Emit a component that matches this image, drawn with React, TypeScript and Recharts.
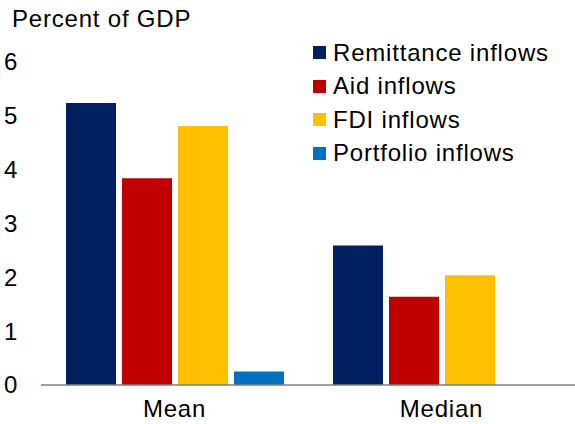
import { BarChart, Bar, XAxis, YAxis } from 'recharts';

const categories = ['Mean', 'Median'];
const remittance = [5.24, 2.59];
const aid = [3.84, 1.64];
const fdi = [4.81, 2.04];
const portfolio = [0.25, 0];
const yTicks = [0, 1, 2, 3, 4, 5, 6];

const seriesInfo = [
  { key: 'remittance', name: 'Remittance inflows', color: '#002060' },
  { key: 'aid', name: 'Aid inflows', color: '#C00000' },
  { key: 'fdi', name: 'FDI inflows', color: '#FFC000' },
  { key: 'portfolio', name: 'Portfolio inflows', color: '#0070C0' },
];

const chartData = categories.map((category, i) => ({
  category,
  remittance: remittance[i],
  aid: aid[i],
  fdi: fdi[i],
  portfolio: portfolio[i],
}));

const FONT = '"Liberation Sans", Arial, sans-serif';

const YTick = (props: any) => {
  const { y, payload } = props;
  return (
    <text x={4} y={y} dy="0.35em" textAnchor="start" fill="#000" fontSize={24} fontFamily={FONT} letterSpacing={0.8}>
      {payload.value}
    </text>
  );
};

// legend drawn as plain html so it doesn't eat into the plot area
const LegendBox = () => (
  <div
    style={{
      position: 'absolute',
      left: 313,
      top: 36,
      fontFamily: FONT,
      fontSize: 24,
      letterSpacing: 0.8,
      color: '#000',
      zIndex: 2,
    }}
  >
    {seriesInfo.map((s) => (
      <div key={s.key} style={{ display: 'flex', alignItems: 'center', height: 33.5 }}>
        <span style={{ width: 13, height: 13, background: s.color, marginRight: 7, display: 'inline-block' }} />
        <span>{s.name}</span>
      </div>
    ))}
  </div>
);

export default function App() {
  return (
    <div style={{ position: 'absolute', left: 0, top: 0, width: 575, height: 424, background: '#fff' }}>
      <div
        style={{
          position: 'absolute',
          left: 12,
          top: 5,
          fontFamily: FONT,
          fontSize: 24,
          letterSpacing: 0.8,
          color: '#000',
          zIndex: 2,
        }}
      >
        Percent of GDP
      </div>
      <LegendBox />
      <BarChart
        width={575}
        height={424}
        data={chartData}
        margin={{ top: 62, right: 0, left: 0, bottom: 0 }}
        barCategoryGap={25}
        barGap={6}
      >
        <XAxis
          dataKey="category"
          height={39}
          tickLine={false}
          tickSize={0}
          tickMargin={15}
          axisLine={{ stroke: '#7f7f7f', strokeWidth: 1.5 }}
          tick={{ fill: '#000', fontSize: 24, fontFamily: FONT, letterSpacing: 0.8 }}
        />
        <YAxis
          width={41}
          domain={[0, 6]}
          ticks={yTicks}
          interval={0}
          axisLine={false}
          tickLine={false}
          tick={<YTick />}
        />
        {seriesInfo.map((s) => (
          <Bar key={s.key} dataKey={s.key} name={s.name} fill={s.color} isAnimationActive={false} />
        ))}
      </BarChart>
    </div>
  );
}
